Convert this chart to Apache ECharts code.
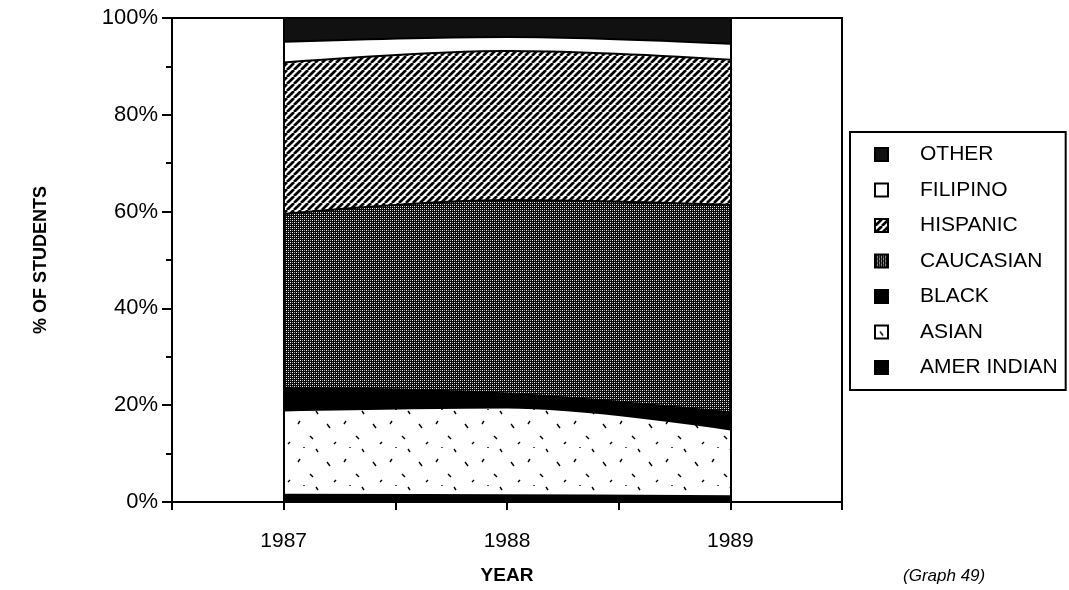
<!DOCTYPE html>
<html>
<head>
<meta charset="utf-8">
<script src="https://cdn.jsdelivr.net/npm/echarts@6/dist/echarts.min.js"></script>
<style>
  html, body { margin: 0; padding: 0; background: #fff; }
  #chart { width: 1069px; height: 590px; }
</style>
</head>
<body>
<div id="chart"></div>
<script>
// shares of students by year (percent, stacked bottom to top)
var years = [1987, 1988, 1989];
var amerIndian = [1.5, 1.4, 1.2];
var asian = [17.4, 18.1, 13.8];
var black = [4.7, 2.9, 3.5];
var caucasian = [35.9, 40.0, 42.9];
var hispanic = [31.3, 30.8, 30.0];
var filipino = [4.3, 2.9, 3.3];
var other = [4.9, 3.9, 5.3];

function tile(w, h, draw){
    var c = document.createElement('canvas');
    c.width = w; c.height = h;
    var ctx = c.getContext('2d');
    draw(ctx, w, h);
    return { image: c, repeat: 'repeat' };
}

// hispanic: //// hatch
var hatchFill = tile(7, 7, function(ctx, w, h){
    ctx.fillStyle = '#fff';
    ctx.fillRect(0, 0, w, h);
    ctx.strokeStyle = '#000';
    ctx.lineWidth = 2.7;
    for (var k = -1; k <= 1; k++) {
        ctx.beginPath();
        ctx.moveTo(k * w, h);
        ctx.lineTo(k * w + w, 0);
        ctx.stroke();
    }
});

// caucasian: dark screen
var dotFill = tile(4, 4, function(ctx, w, h){
    ctx.fillStyle = '#0a0a0a';
    ctx.fillRect(0, 0, w, h);
    ctx.fillStyle = '#fff';
    ctx.fillRect(0, 0, 1, 1);
    ctx.fillRect(2, 2, 1, 1);
    ctx.fillStyle = '#999';
    ctx.fillRect(2, 0, 1, 1);
    ctx.fillRect(0, 2, 1, 1);
});

// asian: white with sparse ticks
var speckFill = tile(46, 38, function(ctx, w, h){
    ctx.fillStyle = '#fff';
    ctx.fillRect(0, 0, w, h);
    ctx.strokeStyle = '#000';
    ctx.lineWidth = 1.4;
    var marks = [[5, 6, 8, 10], [24, 3, 22, 6], [34, 18, 37, 21], [12, 26, 14, 24], [40, 31, 42, 34], [28, 29, 28, 30]];
    marks.forEach(function(m){
        ctx.beginPath();
        ctx.moveTo(m[0], m[1]);
        ctx.lineTo(m[2], m[3]);
        ctx.stroke();
    });
});

var otherFill = '#111';
var blackFill = '#000';
var filipinoFill = '#fff';

// value first, year second, so that the stack runs on the value dimension
function areaSeries(name, data, fill){
    return {
        name: name,
        type: 'line',
        stack: 'total',
        smooth: 0.35,
        symbol: 'none',
        data: years.map(function(y, i){ return [data[i], y]; }),
        encode: { x: 1, y: 0 },
        lineStyle: { color: '#000', width: 2 },
        areaStyle: { color: fill, opacity: 1 },
        itemStyle: { color: '#000' },
        emphasis: { disabled: true },
        silent: true
    };
}

var series = [
    areaSeries('AMER INDIAN', amerIndian, blackFill),
    areaSeries('ASIAN', asian, speckFill),
    areaSeries('BLACK', black, blackFill),
    areaSeries('CAUCASIAN', caucasian, dotFill),
    areaSeries('HISPANIC', hispanic, hatchFill),
    areaSeries('FILIPINO', filipino, filipinoFill),
    areaSeries('OTHER', other, otherFill)
];
series[6].markLine = {
    silent: true,
    symbol: ['none', 'none'],
    label: { show: false },
    lineStyle: { color: '#000', width: 2, type: 'solid' },
    data: [{ xAxis: 1987 }, { xAxis: 1989 }]
};

function legendItem(name, fill){
    return { name: name, itemStyle: { color: fill, borderColor: '#000', borderWidth: 2 } };
}

var chart = echarts.init(document.getElementById('chart'));
var option = {
    animation: false,
    backgroundColor: '#fff',
    textStyle: { fontFamily: 'Liberation Sans, Arial, sans-serif', color: '#000' },
    grid: {
        left: 172, right: 227, top: 18, bottom: 85,
        show: true, borderColor: '#000', borderWidth: 2
    },
    legend: {
        orient: 'vertical',
        left: 850, top: 132,
        icon: 'rect',
        itemWidth: 13, itemHeight: 13,
        itemGap: 14.5,
        padding: [12, 8, 12, 24],
        borderColor: '#000', borderWidth: 2,
        textStyle: { fontSize: 21, color: '#000', padding: [0, 0, 0, 27] },
        selectedMode: false,
        data: [
            legendItem('OTHER', otherFill),
            legendItem('FILIPINO', filipinoFill),
            legendItem('HISPANIC', hatchFill),
            legendItem('CAUCASIAN', dotFill),
            legendItem('BLACK', blackFill),
            legendItem('ASIAN', speckFill),
            legendItem('AMER INDIAN', blackFill)
        ]
    },
    xAxis: {
        type: 'value',
        min: 1986.5, max: 1989.5, interval: 0.5,
        axisLine: { lineStyle: { color: '#000', width: 2 } },
        axisTick: { length: 8, lineStyle: { color: '#000', width: 2 } },
        axisLabel: {
            fontSize: 21, color: '#000', margin: 29,
            formatter: function(v){
                return (v % 1 === 0 && v > 1986.5 && v < 1989.5) ? String(v) : '';
            }
        },
        splitLine: { show: false },
        name: 'YEAR',
        nameLocation: 'middle',
        nameGap: 64,
        nameTextStyle: { fontSize: 19, fontWeight: 'bold', color: '#000' }
    },
    yAxis: {
        type: 'value',
        min: 0, max: 100, interval: 20,
        axisLine: { show: true, lineStyle: { color: '#000', width: 2 } },
        axisTick: { show: true, length: 10, lineStyle: { color: '#000', width: 2 } },
        minorTick: { show: true, splitNumber: 2, length: 6, lineStyle: { color: '#000', width: 2 } },
        axisLabel: { fontSize: 22, color: '#000', margin: 14, formatter: '{value}%' },
        splitLine: { show: false },
        name: '% OF STUDENTS',
        nameLocation: 'middle',
        nameRotate: 90,
        nameGap: 122,
        nameTextStyle: { fontSize: 18, fontWeight: 'bold', color: '#000' }
    },
    graphic: [{
        type: 'text',
        left: 903, top: 568,
        style: { text: '(Graph 49)', fill: '#000', font: 'italic 17px Liberation Sans, Arial, sans-serif' }
    }],
    series: series
};
chart.setOption(option);
</script>
</body>
</html>
